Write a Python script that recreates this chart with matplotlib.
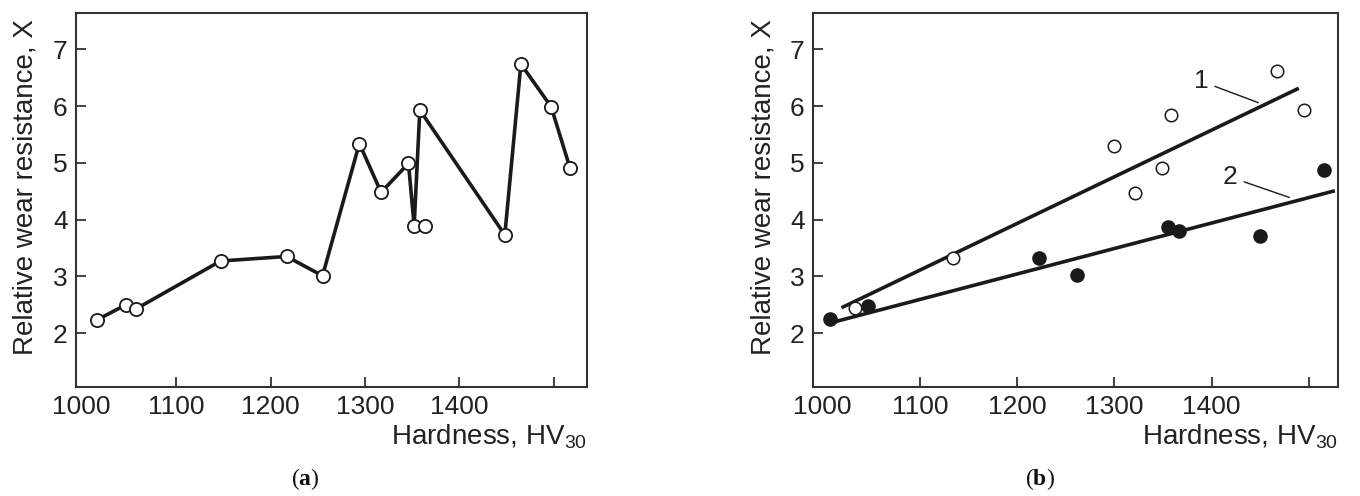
"""Relative wear resistance vs hardness: (a) measured, (b) two linear trends"""

import numpy as np
import matplotlib
matplotlib.use('Agg')
import matplotlib.pyplot as plt

plt.rcParams['font.family'] = ['Liberation Sans', 'DejaVu Sans']
plt.rcParams['mathtext.fontset'] = 'custom'
plt.rcParams['mathtext.rm'] = 'Liberation Sans'
plt.rcParams['mathtext.bf'] = 'Liberation Serif:bold'

#%% data

# panel (a): measured points, joined in this order (hv_a_iso is the stray point)
hv_a = [1016, 1047, 1058, 1147, 1217, 1255, 1294, 1317, 1346, 1352, 1358, 1448, 1465, 1497, 1517]
x_a = [2.23, 2.50, 2.43, 3.27, 3.35, 3.01, 5.34, 4.48, 4.99, 3.89, 5.93, 3.73, 6.74, 5.99, 4.91]
hv_a_iso = [1363]
x_a_iso = [3.88]

# panel (b): open circles (1) and filled circles (2)
hv_open = [1033, 1134, 1300, 1321, 1349, 1358, 1467, 1495]
x_open = [2.45, 3.32, 5.29, 4.46, 4.91, 5.85, 6.62, 5.93]
hv_fill = [1007, 1047, 1222, 1262, 1355, 1366, 1450, 1516]
x_fill = [2.25, 2.48, 3.32, 3.03, 3.87, 3.80, 3.71, 4.88]

# trend lines, end points
hv_line1 = [1021, 1488]
x_line1 = [2.46, 6.30]
hv_line2 = [1008, 1525]
x_line2 = [2.18, 4.50]

xticks = [1000, 1100, 1200, 1300, 1400, 1500]
xticklabels = ['1000', '1100', '1200', '1300', '1400', '']
yticks = [2, 3, 4, 5, 6, 7]

#%% figure

W, H = 1360, 496
fig = plt.figure(figsize=(W/100, H/100), dpi=100)

ink = '#1a1a1a'
fs = 19

def setup(ax, xlim, width_px):
    ax.set_xlim(*xlim)
    ax.set_ylim(1.05, 7.64)
    ax.set_xticks(xticks)
    ax.set_xticklabels(xticklabels)
    ax.set_yticks(yticks)
    ax.tick_params(direction='in', length=7, width=1.3, color='#333333',
                   labelsize=fs, labelcolor='#222222', pad=6)
    ax.xaxis.get_major_ticks()[0].tick1line.set_visible(False)
    for s in ax.spines.values():
        s.set_linewidth(1.5)
        s.set_color('#333333')
    ax.set_ylabel('Relative wear resistance, X', fontsize=fs + 1,
                  color='#222222')
    ax.yaxis.set_label_coords(-37/width_px, 0.535)
    ax.set_xlabel(r'Hardness, HV$_{30}$', fontsize=fs + 1, color='#222222',
                  loc='right', labelpad=2)

#%% (a)
axa = fig.add_axes([76/W, (H-387)/H, 511/W, 374/H])
setup(axa, (994, 1535), 511)
axa.plot(hv_a, x_a, color=ink, lw=2.6, marker='o', ms=9.5,
         mfc='white', mec=ink, mew=1.3, zorder=3)
axa.plot(hv_a_iso, x_a_iso, ls='none', marker='o', ms=9.5,
         mfc='white', mec=ink, mew=1.3, zorder=4)

#%% (b)
axb = fig.add_axes([813/W, (H-387)/H, 525/W, 374/H])
setup(axb, (990, 1530), 525)
axb.plot(hv_line1, x_line1, color=ink, lw=2.6, zorder=2)
axb.plot(hv_line2, x_line2, color=ink, lw=2.6, zorder=2)
axb.plot(hv_open, x_open, ls='none', marker='o', ms=9, mfc='white',
         mec=ink, mew=1.1, zorder=3)
axb.plot(hv_fill, x_fill, ls='none', marker='o', ms=9.5, mfc=ink,
         mec=ink, zorder=3)

arrow = dict(arrowstyle='-', color=ink, lw=1.0, shrinkA=3, shrinkB=0)
axb.annotate('1', xy=(1448, 6.06), xytext=(1389, 6.44), fontsize=fs,
             color='#222222', ha='center', va='center', arrowprops=arrow)
axb.annotate('2', xy=(1480, 4.39), xytext=(1419, 4.75), fontsize=fs,
             color='#222222', ha='center', va='center', arrowprops=arrow)

#%% panel captions
cap = dict(fontsize=17, family=['Liberation Serif', 'DejaVu Serif'],
           color='#111111', ha='center', va='center')
fig.text(305/W, 1 - 479/H, r'($\mathbf{a}$)', **cap)
fig.text(1040/W, 1 - 479/H, r'($\mathbf{b}$)', **cap)

plt.savefig('out.png', dpi=100)
